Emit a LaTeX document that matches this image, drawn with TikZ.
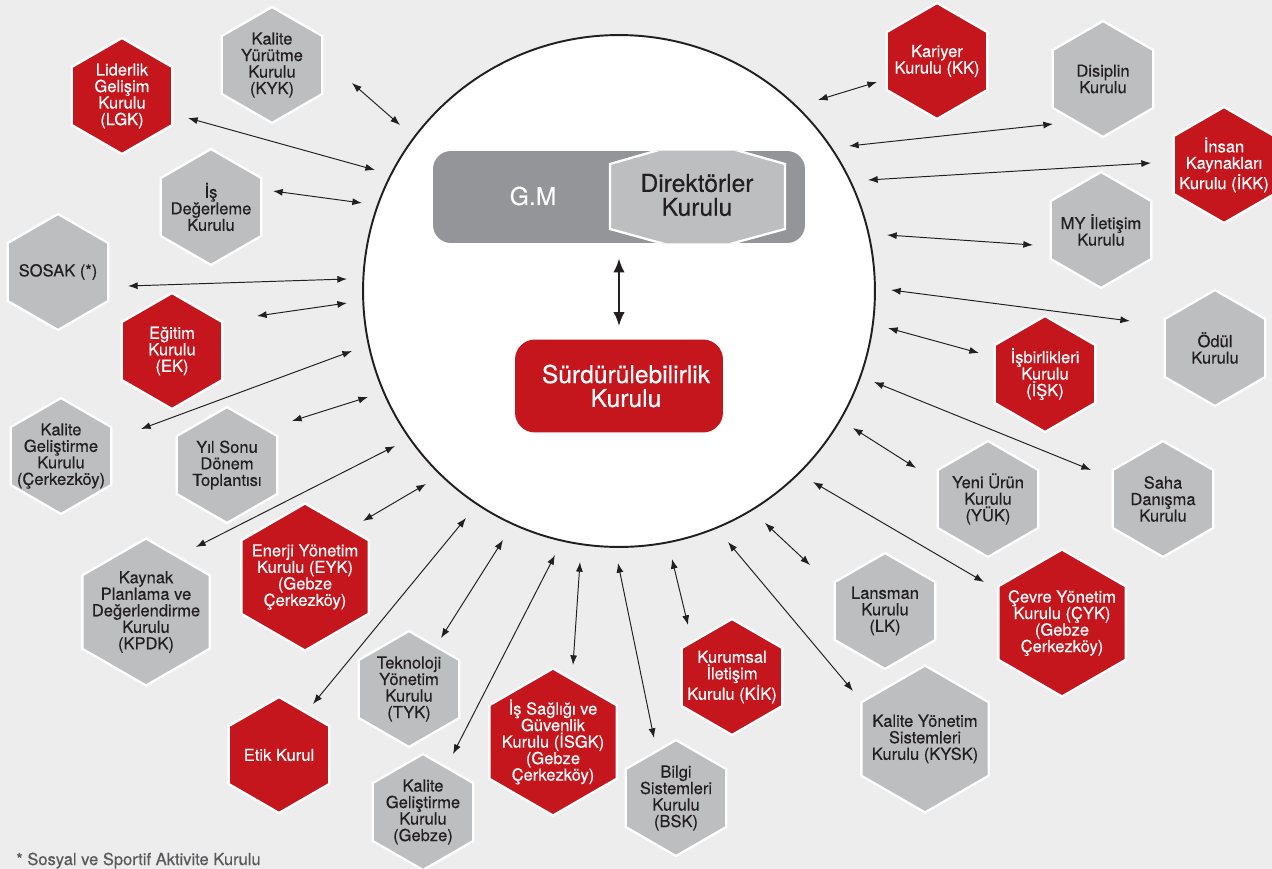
\documentclass[tikz,border=0pt]{standalone}
\usepackage{fontspec}
\setmainfont{TeX Gyre Heros}[UprightFeatures={FakeBold=0.35}]
\usetikzlibrary{shapes.geometric,arrows.meta}

\definecolor{kred}{HTML}{C4161C}
\definecolor{kgray}{HTML}{BCBEC0}
\definecolor{kdark}{HTML}{939598}
\definecolor{kink}{HTML}{231F20}
\definecolor{kbg}{HTML}{EDEDED}
\definecolor{knote}{HTML}{58595B}

\newcommand{\hexfont}{\fontsize{9.4}{9.4}\selectfont}
\newcommand{\bigfont}{\fontsize{14}{13.6}\selectfont}

\tikzset{
  hexa/.style={regular polygon, regular polygon sides=6, shape border rotate=30,
    minimum size=2.32cm, inner sep=0pt, outer sep=0pt, draw=white, line width=1.3pt},
  redhex/.style={hexa, fill=kred},
  grayhex/.style={hexa, fill=kgray},
  bighex/.style={minimum size=2.94cm},
  wtxt/.style={text=white, align=center, font=\hexfont},
  dtxt/.style={text=kink, align=center, font=\hexfont},
  link/.style={{Latex[length=5.5pt,width=4pt]}-{Latex[length=5.5pt,width=4pt]}, line width=0.55pt, draw=kink},
}

\begin{document}
\begin{tikzpicture}[x=0.02cm, y=-0.02cm]
    \useasboundingbox (0,0) rectangle (1272,869);
    \clip (0,0) rectangle (1272,869);
    \fill[kbg] (0,0) rectangle (1272,869);

    % center circle
    \node[circle, draw=kink, fill=white, line width=1.1pt, minimum size=10.24cm, inner sep=0pt] (ring) at (619,291) {};

    % G.M and Direktorler Kurulu
    \node[fill=kdark, rounded corners=0.36cm, minimum width=7.44cm, minimum height=1.84cm, inner sep=0pt] (gm) at (619,197) {};
    \begin{scope}
        \clip[rounded corners=0.36cm] (gm.south west) rectangle (gm.north east);
        \filldraw[fill=kgray, draw=white, line width=1.3pt] (610,164) -- (697,139) -- (785,164) -- (785,229) -- (697,253) -- (610,229) -- cycle;
    \end{scope}
    \node[text=white, font=\bigfont] (gmt) at (533,196) {G.M};
    \node[text=kink, font=\bigfont, align=center] (dk) at (697,195) {Direktörler\\Kurulu};

    \node[fill=kred, rounded corners=0.4cm, minimum width=4.16cm, minimum height=1.86cm,
        label={[text=white, font=\bigfont, align=center, xshift=0.14cm]center:Sürdürülebilirlik\\Kurulu}] (surd) at (619,386) {};
    \draw[{Latex[length=8pt,width=6.5pt]}-{Latex[length=8pt,width=6.5pt]}, line width=1.3pt, kink, shorten <=0.3cm, shorten >=0.26cm] (gm.south) -- (surd.north);

    % left side
    \node[redhex, label={[wtxt]center:Liderlik\\Gelişim\\Kurulu\\(LGK)}] (lgk) at (122,96) {};
    \node[grayhex, label={[dtxt]center:Kalite\\Yürütme\\Kurulu\\(KYK)}] (kyk) at (272,65) {};
    \node[grayhex, label={[dtxt]center:İş\\Değerleme\\Kurulu}] (isd) at (211,207) {};
    \node[grayhex, label={[dtxt]center:SOSAK (*)}] (sosak) at (58,272) {};
    \node[redhex, label={[wtxt]center:Eğitim\\Kurulu\\(EK)}] (ek) at (172,351) {};
    \node[grayhex, label={[dtxt]center:Kalite\\Geliştirme\\Kurulu\\(Çerkezköy)}] (kgc) at (61,456) {};
    \node[grayhex, label={[dtxt]center:Yıl Sonu\\Dönem\\Toplantısı}] (yil) at (227,465) {};
    \node[grayhex, bighex, label={[dtxt]center:Kaynak\\Planlama ve\\Değerlendirme\\Kurulu\\(KPDK)}] (kpdk) at (146,612) {};
    \node[redhex, bighex, label={[wtxt]center:Enerji Yönetim\\Kurulu (EYK)\\(Gebze\\Çerkezköy)}] (eyk) at (305,577) {};

    % bottom
    \node[redhex, label={[wtxt]center:Etik Kurul}] (etik) at (279,755) {};
    \node[grayhex, label={[dtxt]center:Teknoloji\\Yönetim\\Kurulu\\(TYK)}] (tyk) at (409,689) {};
    \node[grayhex, label={[dtxt]center:Kalite\\Geliştirme\\Kurulu\\(Gebze)}] (kgg) at (423,812) {};
    \node[redhex, bighex, label={[wtxt]center:İş Sağlığı ve\\Güvenlik\\Kurulu (İSGK)\\(Gebze\\Çerkezköy)}] (isgk) at (553,742) {};
    \node[grayhex, label={[dtxt]center:Bilgi\\Sistemleri\\Kurulu\\(BSK)}] (bsk) at (676,798) {};
    \node[redhex, label={[wtxt]center:Kurumsal\\İletişim\\Kurulu (KİK)}] (kik) at (732,677) {};
    \node[grayhex, label={[dtxt]center:Lansman\\Kurulu\\(LK)}] (lk) at (885,611) {};
    \node[grayhex, bighex, label={[dtxt]center:Kalite Yönetim\\Sistemleri\\Kurulu (KYSK)}] (kysk) at (925,739) {};
    \node[redhex, bighex, label={[wtxt]center:Çevre Yönetim\\Kurulu (ÇYK)\\(Gebze\\Çerkezköy)}] (cyk) at (1062,623) {};

    % right side
    \node[grayhex, label={[dtxt]center:Yeni Ürün\\Kurulu\\(YÜK)}] (yuk) at (988,499) {};
    \node[grayhex, label={[dtxt]center:Saha\\Danışma\\Kurulu}] (saha) at (1163,499) {};
    \node[redhex, label={[wtxt]center:İşbirlikleri\\Kurulu\\(İŞK)}] (isk) at (1045,374) {};
    \node[grayhex, label={[dtxt]center:Ödül\\Kurulu}] (odul) at (1215,348) {};
    \node[grayhex, label={[dtxt]center:MY İletişim\\Kurulu}] (my) at (1101,230) {};
    \node[redhex, label={[wtxt]center:İnsan\\Kaynakları\\Kurulu (İKK)}] (ikk) at (1224,165) {};
    \node[grayhex, label={[dtxt]center:Disiplin\\Kurulu}] (dis) at (1103,79) {};
    \node[redhex, label={[wtxt]center:Kariyer\\Kurulu (KK)}] (kk) at (937,61) {};

    % connectors
    \foreach \n/\xa/\ya/\xb/\yb in {kyk/352/83/400/125, lgk/188/118/375/170, isd/273/191/362/203,
        sosak/128/286/347/279, ek/257/316/347/303, kgc/141/429/352/351, yil/292/421/368/397,
        kpdk/196/547/395/446, eyk/363/521/426/484, etik/313/704/466/518, tyk/441/638/503/540,
        kgg/453/754/555/555, isgk/573/665/580/562, bsk/654/738/618/563, kik/688/625/672/559,
        kysk/853/691/728/542, lk/810/565/765/523, cyk/984/582/813/482, yuk/916/468/853/428,
        saha/1091/470/874/382, isk/979/353/888/328, odul/1130/321/891/290, my/1033/245/887/235,
        ikk/1151/163/868/180, dis/1053/124/849/146, kk/877/82/818/100}
    {
        \coordinate (\n-out) at (\xa,\ya);
        \coordinate (\n-in) at (\xb,\yb);
        \draw[link] (\n-out) -- (\n-in);
    }

    \node[anchor=base west, text=knote, font=\hexfont, inner sep=0pt] (note) at (16,865) {* Sosyal ve Sportif Aktivite Kurulu};
\end{tikzpicture}
\end{document}
